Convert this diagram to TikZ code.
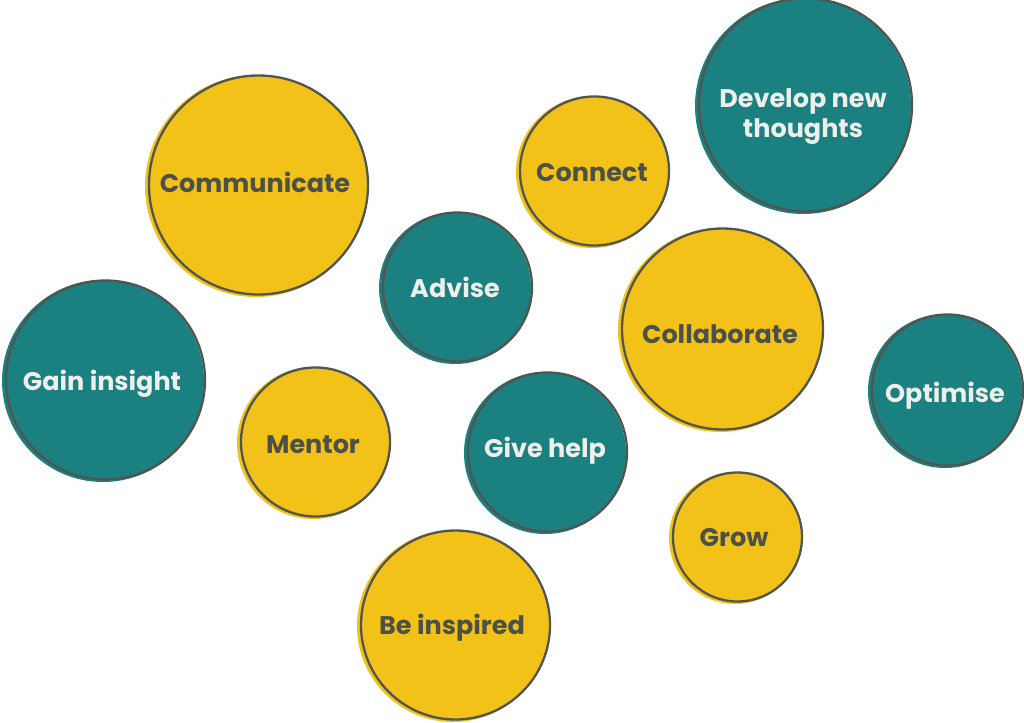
\documentclass[tikz,border=0pt]{standalone}
\usepackage{fontspec}
\setmainfont{Poppins}
\definecolor{yel}{HTML}{F3C218}
\definecolor{tealc}{HTML}{1A8080}
\definecolor{ink}{HTML}{4B5149}
\definecolor{wht}{HTML}{EEEEEA}
\definecolor{edge}{HTML}{505550}
\tikzset{
  disc/.style={circle, inner sep=0pt},
  ydisc/.style={disc, fill=yel},
  tdisc/.style={disc, fill=tealc},
  lbl/.style={anchor=base, inner sep=0pt, align=center, font=\fontsize{25.5}{30}\selectfont\bfseries},
  ylbl/.style={lbl, text=ink},
  tlbl/.style={lbl, text=wht},
  outl/.style={draw=edge, line width=2.3pt}
}
% name, cx, cy, r, kind (y/t), tx, baseline y (last line), text
\newcommand\mybub[8]{%
  \node[#5disc, minimum size={2*#4}] (#1) at (#2,#3) {};
  \draw[outl] ([shift={(2.5,-1)}]#1.center) circle ({#4-1.5});
  \node[#5lbl] (#1-t) at (#6,#7) {#8};
}
\begin{document}
\begin{tikzpicture}[x=1pt,y=-1pt]
\useasboundingbox (0,0) rectangle (1024,722);
\mybub{communicate}{256}{186}{111}{y}{255}{192}{Communicate}
\mybub{gain}{103}{381}{101}{t}{102}{390}{Gain insight}
\mybub{connect}{592}{172}{76}{y}{592}{182}{Connect}
\mybub{develop}{803}{106}{108}{t}{803}{138}{Develop new\\thoughts}
\mybub{advise}{455}{288}{76}{t}{455}{297}{Advise}
\mybub{collab}{720}{330}{102}{y}{720}{343}{Collaborate}
\mybub{givehelp}{545}{453}{81}{t}{545}{457}{Give help}
\mybub{mentor}{313}{443}{76}{y}{313}{453}{Mentor}
\mybub{grow}{735}{538}{66}{y}{734}{546}{Grow}
\mybub{inspired}{453}{626}{96}{y}{452}{634}{Be inspired}
\mybub{optimise}{945}{391}{77}{t}{945}{402}{Optimise}
\end{tikzpicture}
\end{document}
